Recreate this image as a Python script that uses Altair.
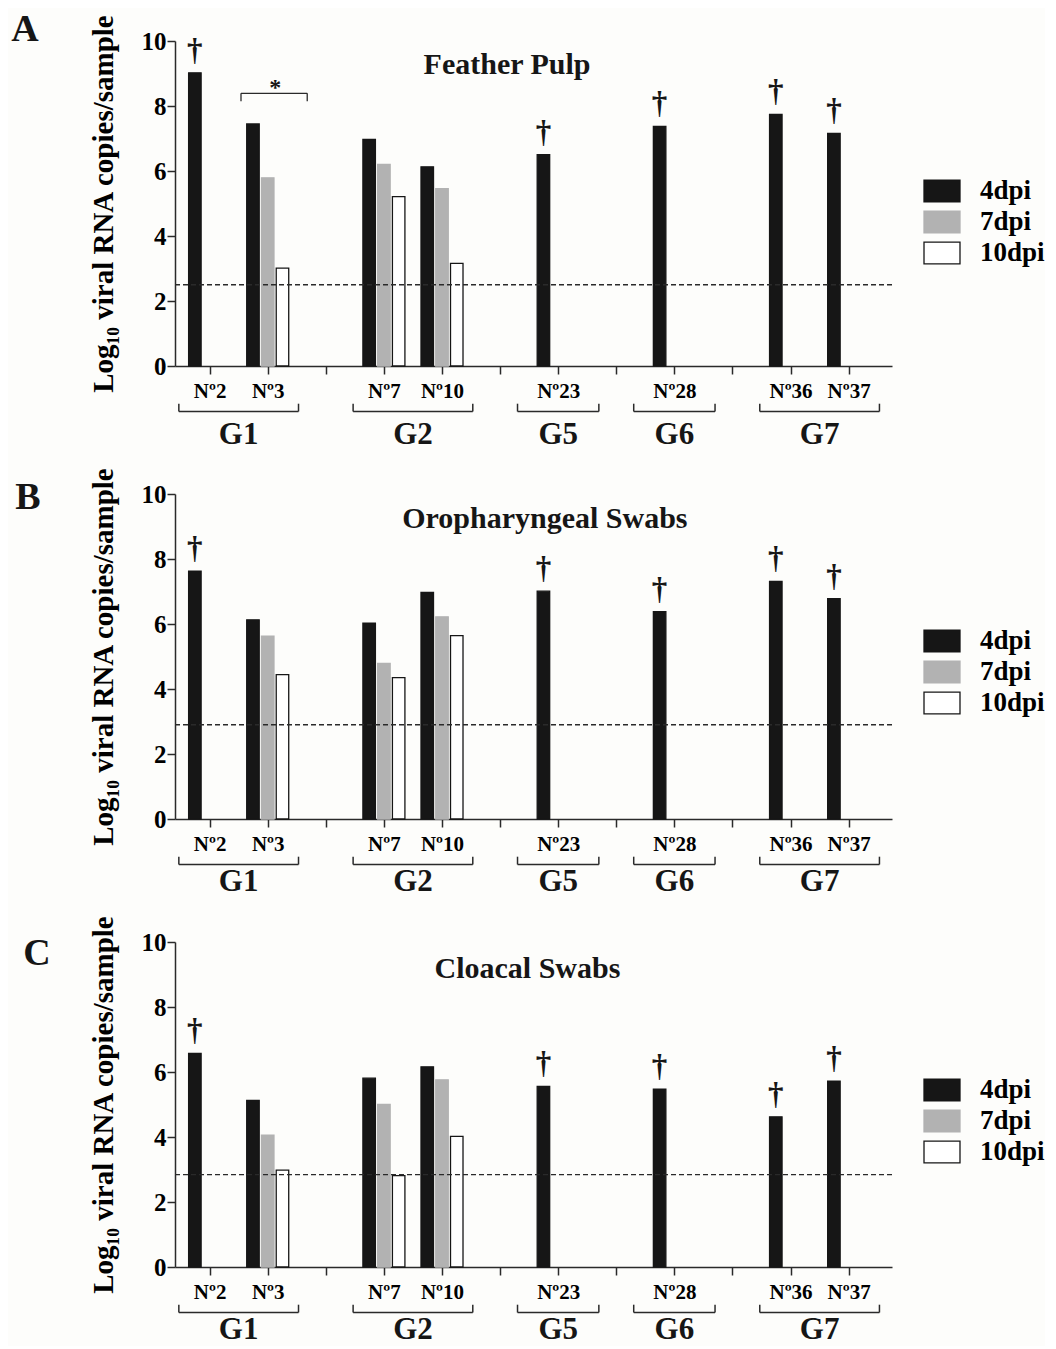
import json
import altair as alt
import pandas as pd

# ---------------- data ----------------
tick_labels = ["Nº2", "Nº3", "", "Nº7", "Nº10", "", "Nº23", "", "Nº28", "", "Nº36", "Nº37"]
animals = ["Nº2", "Nº3", "Nº7", "Nº10", "Nº23", "Nº28", "Nº36", "Nº37"]
dead_animals = ["Nº2", "Nº23", "Nº28", "Nº36", "Nº37"]
series = ["4dpi", "7dpi", "10dpi"]
groups = ["G1", "G2", "G5", "G6", "G7"]
group_members = [["Nº2", "Nº3"], ["Nº7", "Nº10"], ["Nº23"], ["Nº28"], ["Nº36", "Nº37"]]

panel_letters = ["A", "B", "C"]
panel_titles = ["Feather Pulp", "Oropharyngeal Swabs", "Cloacal Swabs"]

fp_4dpi = [9.02, 7.45, 6.97, 6.13, 6.50, 7.37, 7.74, 7.16]
fp_7dpi = [None, 5.79, 6.20, 5.46, None, None, None, None]
fp_10dpi = [None, 3.01, 5.21, 3.16, None, None, None, None]

op_4dpi = [7.63, 6.13, 6.03, 6.97, 7.01, 6.38, 7.31, 6.78]
op_7dpi = [None, 5.63, 4.79, 6.22, None, None, None, None]
op_10dpi = [None, 4.44, 4.35, 5.64, None, None, None, None]

cl_4dpi = [6.57, 5.13, 5.81, 6.16, 5.56, 5.47, 4.62, 5.72]
cl_7dpi = [None, 4.06, 5.00, 5.76, None, None, None, None]
cl_10dpi = [None, 2.98, 2.81, 4.02, None, None, None, None]

detection_limit = [2.5, 2.9, 2.84]

# ---------------- style / layout ----------------
FONT = "Liberation Serif"
INK = "#161616"
AXC = "#2a2a2a"
W, H = 717, 325
BAR_OFFSET = 0.254
BAR_W = 12.5
fills = [INK, "#b2b2b2", "#ffffff"]
strokes = [INK, "#b2b2b2", INK]

layout = [
    dict(title_xy=(5.12, 9.0), letter_xy=(-150, -11), legend_xy=(753, 136), glabel_y=-2.40, star=True),
    dict(title_xy=(5.77, 8.95), letter_xy=(-147, 4), legend_xy=(753, 133), glabel_y=-2.23, star=False),
    dict(title_xy=(5.47, 8.9), letter_xy=(-138, 12), legend_xy=(753, 134), glabel_y=-2.23, star=False),
]

x_scale = alt.Scale(domain=[-0.51, 11.66], nice=False, zero=False)
y_scale = alt.Scale(domain=[0, 10], nice=False, zero=False)

label_expr = json.dumps(tick_labels, ensure_ascii=False) + "[datum.value]"
x_axis = alt.Axis(values=list(range(len(tick_labels))), labelExpr=label_expr, title=None,
                  tickSize=8, labelFontSize=21, labelPadding=6, grid=False,
                  labelFlush=False, labelOverlap=False)
y_axis = alt.Axis(values=[0, 2, 4, 6, 8, 10], title="Log₁₀ viral RNA copies/sample",
                  tickSize=8, labelFontSize=25, labelPadding=1, titleFontSize=29,
                  titlePadding=23, grid=False)

X = alt.X("xpos:Q", scale=x_scale, axis=x_axis, title=None)
Y = alt.Y("value:Q", scale=y_scale, axis=y_axis, stack=None)

PATH = "M-1.4,-0.85L1.4,-0.85L1.4,0.85L-1.4,0.85Z"


def make_panel(i, vals4, vals7, vals10):
    lay = layout[i]
    rows = []
    for s_idx, (s, vals) in enumerate(zip(series, [vals4, vals7, vals10])):
        for a, v in zip(animals, vals):
            if v is None:
                continue
            slot = tick_labels.index(a)
            rows.append(dict(animal=a, series=s, value=v,
                             xpos=slot + (s_idx - 1) * BAR_OFFSET,
                             dead=(a in dead_animals and s == "4dpi")))
    df = pd.DataFrame(rows)

    legend = alt.Legend(title=None, orient="none", legendX=lay["legend_xy"][0],
                        legendY=lay["legend_xy"][1], symbolType=PATH, symbolSize=661,
                        symbolStrokeWidth=1.3, labelFont=FONT, labelFontSize=27,
                        labelFontWeight="bold", labelColor="black", labelOffset=24,
                        rowPadding=3, padding=0)

    bars = alt.Chart(df).mark_bar(size=BAR_W, orient="vertical", strokeWidth=1.3).encode(
        x=X, y=Y,
        fill=alt.Fill("series:N", scale=alt.Scale(domain=series, range=fills), legend=legend),
        stroke=alt.Stroke("series:N", scale=alt.Scale(domain=series, range=strokes), legend=legend),
    )

    daggers = alt.Chart(df[df["dead"]]).mark_text(
        text="†", font=FONT, fontSize=31, fontWeight="bold", color=INK,
        baseline="alphabetic", dy=-13).encode(x=X, y=Y)

    lod = alt.Chart(pd.DataFrame({"value": [detection_limit[i]]})).mark_rule(
        strokeDash=[5, 3], color=AXC, strokeWidth=1.3).encode(y=Y)

    tdf = pd.DataFrame({"xpos": [lay["title_xy"][0]], "value": [lay["title_xy"][1]],
                        "label": [panel_titles[i]]})
    title = alt.Chart(tdf).mark_text(font=FONT, fontSize=30, fontWeight="bold",
                                     color=INK, baseline="alphabetic").encode(
        x=X, y=Y, text="label:N")

    # group brackets below the axis
    seg = []
    glab = []
    for g, mem in zip(groups, group_members):
        slots = [tick_labels.index(m) for m in mem]
        pad = 0.53 if len(slots) > 1 else 0.70
        lo, hi = min(slots) - pad, max(slots) + pad
        seg.append(dict(xpos=lo, xpos2=hi, value=-1.40, value2=-1.40))
        seg.append(dict(xpos=lo, xpos2=lo, value=-1.40, value2=-1.16))
        seg.append(dict(xpos=hi, xpos2=hi, value=-1.40, value2=-1.16))
        glab.append(dict(xpos=(lo + hi) / 2, value=lay["glabel_y"], label=g))
    brackets = alt.Chart(pd.DataFrame(seg)).mark_rule(color=AXC, strokeWidth=1.5).encode(
        x=X, x2="xpos2:Q", y=Y, y2="value2:Q")
    glabels = alt.Chart(pd.DataFrame(glab)).mark_text(
        font=FONT, fontSize=31, fontWeight="bold", color=INK, baseline="alphabetic").encode(
        x=X, y=Y, text="label:N")

    letter = alt.Chart(pd.DataFrame({"t": [panel_letters[i]]})).mark_text(
        font=FONT, fontSize=38, fontWeight="bold", color=INK, baseline="middle").encode(
        text="t:N", x=alt.value(lay["letter_xy"][0]), y=alt.value(lay["letter_xy"][1]))

    layers = [bars, lod, daggers, title, brackets, glabels, letter]

    if lay["star"]:
        # significance bracket over Nº3
        sseg = pd.DataFrame([
            dict(xpos=0.54, xpos2=1.68, value=8.39, value2=8.39),
            dict(xpos=0.54, xpos2=0.54, value=8.39, value2=8.15),
            dict(xpos=1.68, xpos2=1.68, value=8.39, value2=8.15),
        ])
        sb = alt.Chart(sseg).mark_rule(color=AXC, strokeWidth=1.3).encode(
            x=X, x2="xpos2:Q", y=Y, y2="value2:Q")
        star = alt.Chart(pd.DataFrame({"xpos": [1.13], "value": [8.33], "t": ["*"]})).mark_text(
            font=FONT, fontSize=24, fontWeight="bold", color=INK, baseline="alphabetic").encode(
            x=X, y=Y, text="t:N")
        layers += [sb, star]

    return alt.layer(*layers).properties(width=W, height=H)


panels = [
    make_panel(0, fp_4dpi, fp_7dpi, fp_10dpi),
    make_panel(1, op_4dpi, op_7dpi, op_10dpi),
    make_panel(2, cl_4dpi, cl_7dpi, cl_10dpi),
]

chart = alt.vconcat(*panels, spacing=16).resolve_scale(
    x="independent", y="independent", fill="independent", stroke="independent"
).resolve_legend(fill="independent", stroke="independent").properties(
    padding={"left": 3, "top": 3, "right": 0, "bottom": 0}, background="#fdfdfb"
).configure_view(stroke=None).configure_axis(
    domainColor=AXC, domainWidth=1.5, tickColor=AXC, tickWidth=1.5,
    labelFont=FONT, labelFontWeight="bold", labelColor="black",
    titleFont=FONT, titleFontWeight="bold", titleColor="black",
)

chart.save("out.html", embed_options={"renderer": "svg", "actions": False})
